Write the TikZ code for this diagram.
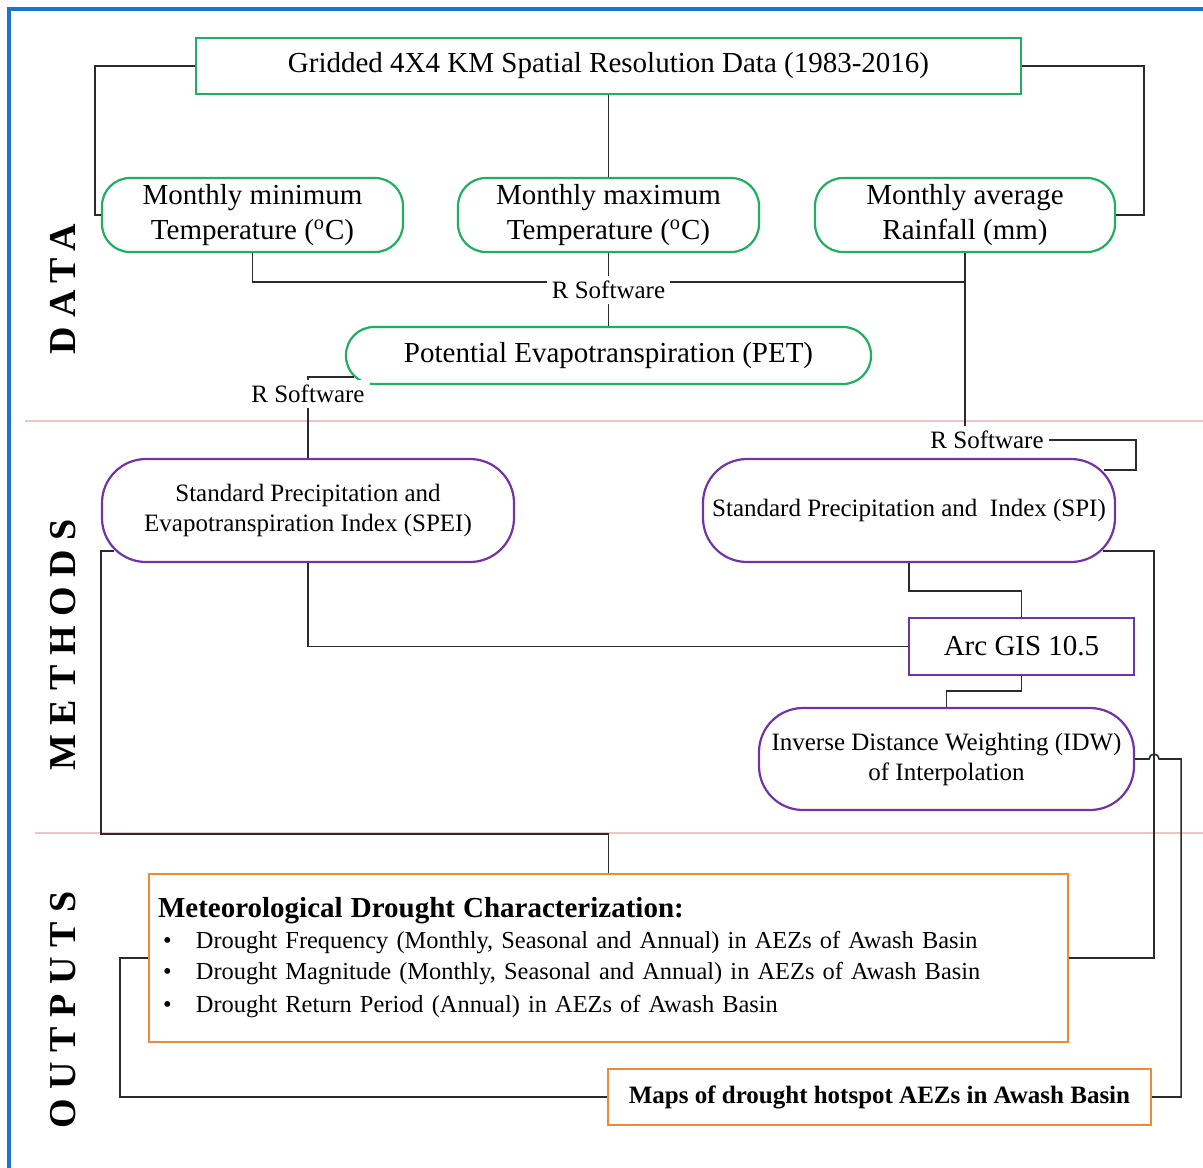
\documentclass[tikz,border=0pt]{standalone}
\usepackage{fontspec}
\setmainfont{Liberation Serif}
\newfontfamily\sidefont[LetterSpace=25]{Liberation Serif}
\usetikzlibrary{calc}
\definecolor{frameblue}{HTML}{1C75C8}
\definecolor{datagreen}{HTML}{22AE62}
\definecolor{methpurple}{HTML}{7234A4}
\definecolor{outorange}{HTML}{EE8A36}
\definecolor{seppink}{HTML}{EBC6C6}
\definecolor{linkgray}{HTML}{2B2B2B}
\tikzset{
  link/.style={draw=linkgray, line width=0.8pt},
  frame/.style={draw=frameblue, line width=1.7pt},
  separator/.style={draw=seppink, line width=1pt},
  databox/.style={
    draw=datagreen,
    line width=1.1pt,
    rounded corners=14pt,
    align=center,
    inner sep=0pt,
    font=\fontsize{14.5}{17.5}\selectfont
  },
  methbox/.style={
    draw=methpurple,
    line width=1.1pt,
    rounded corners=22pt,
    align=center,
    inner sep=0pt,
    font=\fontsize{12.5}{15}\selectfont
  },
  outbox/.style={
    draw=outorange,
    line width=1.1pt,
    inner sep=0pt,
    font=\fontsize{12.2}{15.5}\selectfont
  },
  swlabel/.style={fill=white, inner sep=2.5pt, font=\fontsize{12.5}{15}\selectfont},
  sidelabel/.style={rotate=90, font=\sidefont\fontsize{19}{22}\selectfont\bfseries}
}

\begin{document}
\begin{tikzpicture}[x=0.5pt,y=-0.5pt]
  \path[use as bounding box] (0,0) rectangle (1203,1167);

  \draw[frame] (1212,9) -- (9,9) -- (9,1178);
  \draw[separator] (25,421) -- (1203,421);
  \draw[separator] (35,833) -- (1203,833);

  \node[sidelabel] (lbldata) at (63,289) {DATA};
  \node[sidelabel] (lblmeth) at (63,645) {METHODS};
  \node[sidelabel] (lblout) at (63,1010) {OUTPUTS};

  \node[databox, rounded corners=0pt, minimum width=412.5pt, minimum height=28pt] (grid) at (608.5,66)
    {Gridded 4X4 KM Spatial Resolution Data (1983-2016)};
  \node[databox, minimum width=150.5pt, minimum height=37pt] (mintemp) at (252.5,215)
    {Monthly minimum\\Temperature (\textsuperscript{o}C)};
  \node[databox, minimum width=150.5pt, minimum height=37pt] (maxtemp) at (608.5,215)
    {Monthly maximum\\Temperature (\textsuperscript{o}C)};
  \node[databox, minimum width=150pt, minimum height=37pt] (rain) at (965,215)
    {Monthly average\\Rainfall (mm)};
  \node[databox, minimum width=262.5pt, minimum height=28.5pt] (pet) at (608.5,355.5)
    {Potential Evapotranspiration (PET)};

  \node[methbox, minimum width=206pt, minimum height=51.5pt] (spei) at (308,510.5)
    {Standard Precipitation and\\Evapotranspiration Index (SPEI)};
  \node[methbox, minimum width=206pt, minimum height=51.5pt] (spi) at (909,510.5)
    {Standard Precipitation and\ \ Index (SPI)};
  \node[methbox, rounded corners=0pt, minimum width=112.5pt, minimum height=28.5pt,
    font=\fontsize{14.5}{17.5}\selectfont] (arcgis) at (1021.5,646.5) {Arc GIS 10.5};
  \node[methbox, minimum width=187.5pt, minimum height=51pt] (idw) at (946.5,759)
    {Inverse Distance Weighting (IDW)\\of Interpolation};

  \node[outbox, minimum width=459.5pt, minimum height=84pt, text width=450.5pt,
    inner xsep=4.5pt, align=left] (met) at (608.5,958)
    {{\bfseries\fontsize{14.5}{16}\selectfont Meteorological Drought Characterization:}\\
     \makebox[19pt][l]{\hspace{2.5pt}\textbullet}Drought Frequency (Monthly, Seasonal and Annual) in AEZs of Awash Basin\\
     \makebox[19pt][l]{\hspace{2.5pt}\textbullet}Drought Magnitude (Monthly, Seasonal and Annual) in AEZs of Awash Basin\\[1pt]
     \makebox[19pt][l]{\hspace{2.5pt}\textbullet}Drought Return Period (Annual) in AEZs of Awash Basin};
  \node[outbox, minimum width=271.5pt, minimum height=28pt, font=\fontsize{12.5}{15}\selectfont\bfseries] (maps) at (879.5,1097)
    {Maps of drought hotspot AEZs in Awash Basin};

  \coordinate (tjoin) at ($(rain.south)+(0,29)$);
  \coordinate (petsw) at ($(pet.south west)+(9,-8)$);
  \coordinate (spine) at ($(spi.north east)+(-12,12)$);
  \coordinate (spise) at ($(spi.south east)+(-13,-12)$);
  \coordinate (speisw) at ($(spei.south west)+(13,-12)$);

  \draw[link] (grid.west) -- ++(-100,0) |- (mintemp.west);
  \draw[link] (grid.east) -- ++(122,0) |- (rain.east);
  \draw[link] (grid) -- (maxtemp);
  \draw[link] (mintemp.south) |- (tjoin);

  \node[swlabel] (rsw1) at (608.5,290) {R Software};
  \node[swlabel] (rsw2) at (308,394) {R Software};
  \node[swlabel] (rsw3) at (987,440) {R Software};

  \draw[link] (maxtemp) -- (rsw1);
  \draw[link] (rsw1) -- (pet);
  \draw[link] (rain.south) -- (rain.south |- rsw3.north);
  \draw[link] (rsw3.east) -- ++(87,0) |- (spine);
  \draw[link] (petsw) -| (rsw2);
  \draw[link] (rsw2) -- (spei);

  \draw[link] (spei.south) |- (arcgis.west);
  \draw[link] (spi.south) -- ++(0,28) -| (arcgis.north);
  \draw[link] (arcgis.south) -- ++(0,15) -| (idw.north);

  \draw[link] (spise) -- ++(51,0) |- (met.east);
  \draw[link] (idw.east) -- ++(14,0) arc[start angle=180, end angle=0, radius=2.5pt] -- ++(22,0) |- (maps.east);
  \draw[link] (speisw) -- (speisw -| spei.west) |- ($(met.north)+(0,-39)$) -- (met.north);
  \draw[link] (met.west) -- ++(-28,0) |- (maps.west);
\end{tikzpicture}
\end{document}
